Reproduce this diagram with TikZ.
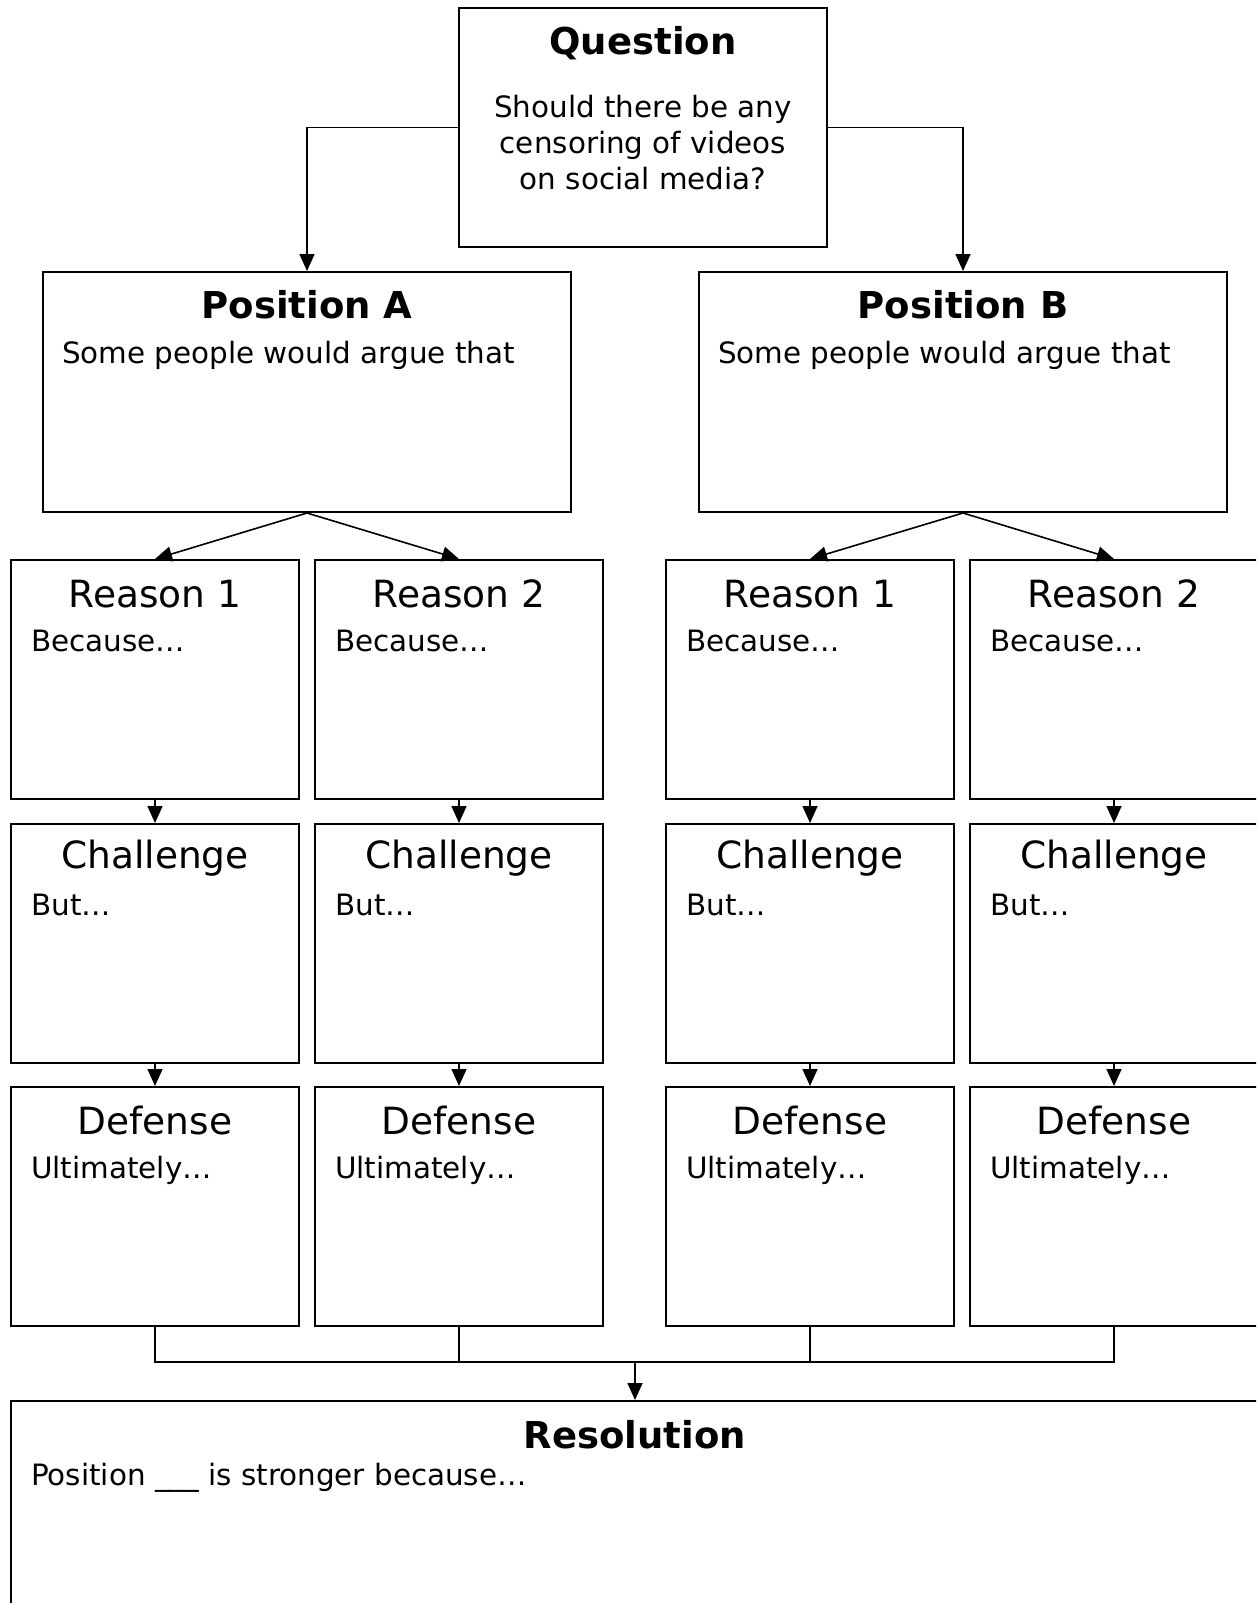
\documentclass[tikz,border=0pt]{standalone}
\usepackage{fontspec}
\setmainfont{DejaVu Sans}
\usetikzlibrary{arrows.meta, positioning, calc}

\begin{document}
\begin{tikzpicture}[x=1pt, y=-1pt,
    box/.style={rectangle, draw=black, line width=2pt, inner sep=0pt, anchor=north west},
    cellbox/.style={box, minimum width=288pt, minimum height=239pt},
    posbox/.style={box, minimum width=528pt, minimum height=240pt},
    ttl/.style={font=\fontsize{37.5}{42}\selectfont, anchor=center, inner sep=0pt},
    bttl/.style={font=\fontsize{37}{42}\selectfont\bfseries, anchor=center, inner sep=0pt},
    body/.style={font=\fontsize{29.4}{36}\selectfont, anchor=base west, inner sep=0pt},
    arrow/.style={-{Triangle[length=17pt, width=15pt]}, line width=1.6pt},
    link/.style={line width=1.6pt},
]
\useasboundingbox (0,0) rectangle (1256,1603);
\clip (0,0) rectangle (1256,1603);

% === Question ===
\node[box, minimum width=368pt, minimum height=239pt] (q) at (458,7) {};
\node[bttl] (qt) at ([yshift=-36pt]q.north) {Question};
\node[font=\fontsize{29.4}{36}\selectfont, align=center, inner sep=0pt]
    (qb) at ([yshift=-136pt]q.north) {Should there be any\\censoring of videos\\on social media?};

% === Positions ===
\node[posbox] (pa) at (42,271) {};
\node[bttl] (pat) at ([yshift=-34pt]pa.north) {Position A};
\node[body] (pab) at ([xshift=20pt, yshift=-92pt]pa.north west) {Some people would argue that};
\node[posbox] (pb) at (698,271) {};
\node[bttl] (pbt) at ([yshift=-34pt]pb.north) {Position B};
\node[body] (pbb) at ([xshift=20pt, yshift=-92pt]pb.north west) {Some people would argue that};

% === Reasons ===
\node[cellbox] (r1) at (10,559) {};
\node[cellbox] (r2) at (314,559) {};
\node[cellbox] (r3) at (665,559) {};
\node[cellbox] (r4) at (969,559) {};
\node[ttl] (r1t) at ([yshift=-35pt]r1.north) {Reason 1};
\node[ttl] (r2t) at ([yshift=-35pt]r2.north) {Reason 2};
\node[ttl] (r3t) at ([yshift=-35pt]r3.north) {Reason 1};
\node[ttl] (r4t) at ([yshift=-35pt]r4.north) {Reason 2};
\node[body] (r1b) at ([xshift=21pt, yshift=-92pt]r1.north west) {Because…};
\node[body] (r2b) at ([xshift=21pt, yshift=-92pt]r2.north west) {Because…};
\node[body] (r3b) at ([xshift=21pt, yshift=-92pt]r3.north west) {Because…};
\node[body] (r4b) at ([xshift=21pt, yshift=-92pt]r4.north west) {Because…};

% === Challenges ===
\node[cellbox] (c1) at (10,823) {};
\node[cellbox] (c2) at (314,823) {};
\node[cellbox] (c3) at (665,823) {};
\node[cellbox] (c4) at (969,823) {};
\node[ttl] (c1t) at ([yshift=-35pt]c1.north) {Challenge};
\node[ttl] (c2t) at ([yshift=-35pt]c2.north) {Challenge};
\node[ttl] (c3t) at ([yshift=-35pt]c3.north) {Challenge};
\node[ttl] (c4t) at ([yshift=-35pt]c4.north) {Challenge};
\node[body] (c1b) at ([xshift=21pt, yshift=-92pt]c1.north west) {But…};
\node[body] (c2b) at ([xshift=21pt, yshift=-92pt]c2.north west) {But…};
\node[body] (c3b) at ([xshift=21pt, yshift=-92pt]c3.north west) {But…};
\node[body] (c4b) at ([xshift=21pt, yshift=-92pt]c4.north west) {But…};

% === Defenses ===
\node[cellbox] (d1) at (10,1086) {};
\node[cellbox] (d2) at (314,1086) {};
\node[cellbox] (d3) at (665,1086) {};
\node[cellbox] (d4) at (969,1086) {};
\node[ttl] (d1t) at ([yshift=-35pt]d1.north) {Defense};
\node[ttl] (d2t) at ([yshift=-35pt]d2.north) {Defense};
\node[ttl] (d3t) at ([yshift=-35pt]d3.north) {Defense};
\node[ttl] (d4t) at ([yshift=-35pt]d4.north) {Defense};
\node[body] (d1b) at ([xshift=21pt, yshift=-92pt]d1.north west) {Ultimately…};
\node[body] (d2b) at ([xshift=21pt, yshift=-92pt]d2.north west) {Ultimately…};
\node[body] (d3b) at ([xshift=21pt, yshift=-92pt]d3.north west) {Ultimately…};
\node[body] (d4b) at ([xshift=21pt, yshift=-92pt]d4.north west) {Ultimately…};

% === Resolution ===
\node[box, minimum width=1248pt, minimum height=260pt] (res) at (10,1400) {};
\node[bttl] (rest) at ([yshift=-35pt]res.north) {Resolution};
\node[body] (resb) at ([xshift=21pt, yshift=-85pt]res.north west) {Position \_\_\_ is stronger because…};

% === Connectors ===
\draw[arrow] (q.west) -| (pa.north);
\draw[arrow] (q.east) -| (pb.north);
\draw[arrow] (pa.south) -- (r1.north);
\draw[arrow] (pa.south) -- (r2.north);
\draw[arrow] (pb.south) -- (r3.north);
\draw[arrow] (pb.south) -- (r4.north);
\draw[arrow] (r1.south) -- (c1.north);
\draw[arrow] (r2.south) -- (c2.north);
\draw[arrow] (r3.south) -- (c3.north);
\draw[arrow] (r4.south) -- (c4.north);
\draw[arrow] (c1.south) -- (d1.north);
\draw[arrow] (c2.south) -- (d2.north);
\draw[arrow] (c3.south) -- (d3.north);
\draw[arrow] (c4.south) -- (d4.north);

% join into resolution
\coordinate (join) at (res.north |- 0,1362);
\draw[link] (d1.south) |- (join);
\draw[link] (d4.south) |- (join);
\draw[link] (d2.south) -- (d2.south |- join);
\draw[link] (d3.south) -- (d3.south |- join);
\draw[arrow] (join) -- (res.north);

\end{tikzpicture}
\end{document}
